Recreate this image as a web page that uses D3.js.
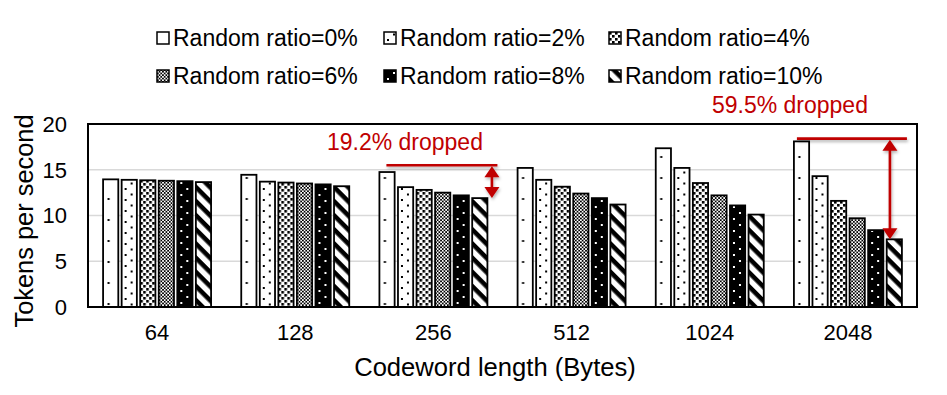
<!DOCTYPE html>
<html>
<head>
<meta charset="utf-8">
<script src="https://cdn.jsdelivr.net/npm/d3@7"></script>
<style>
  body { margin: 0; background: #fff; }
  svg { display: block; font-family: "Liberation Sans", Arial, sans-serif; }
</style>
</head>
<body>
<div id="chart"></div>
<script>
// data
const categories = ["64", "128", "256", "512", "1024", "2048"];
const seriesNames = ["Random ratio=0%", "Random ratio=2%", "Random ratio=4%",
                     "Random ratio=6%", "Random ratio=8%", "Random ratio=10%"];
const ratio0  = [13.95, 14.45, 14.75, 15.2, 17.35, 18.1];
const ratio2  = [13.9, 13.7, 13.1, 13.9, 15.2, 14.3];
const ratio4  = [13.85, 13.6, 12.8, 13.15, 13.55, 11.6];
const ratio6  = [13.8, 13.5, 12.5, 12.4, 12.2, 9.7];
const ratio8  = [13.75, 13.4, 12.2, 11.9, 11.1, 8.4];
const ratio10 = [13.65, 13.2, 11.9, 11.2, 10.1, 7.4];
const yTicks = [0, 5, 10, 15, 20];
const dropNotes = [
  { cat: "256",  text: "19.2% dropped", level: 15.5 },
  { cat: "2048", text: "59.5% dropped", level: 18.4 }
];

const seriesValues = [ratio0, ratio2, ratio4, ratio6, ratio8, ratio10];
const patIds = ["p0", "p2", "p4", "p6", "p8", "p10"];
const RED = "#c00000";

const W = 947, H = 395;
const plot = { left: 88, right: 917, top: 124, bottom: 307 };

const svg = d3.select("#chart").append("svg").attr("width", W).attr("height", H);
const defs = svg.append("defs");

// fill patterns (userSpace, each bar lives in its own translated group)
function pattern(id, w, h, bg) {
  const p = defs.append("pattern").attr("id", id).attr("patternUnits", "userSpaceOnUse")
    .attr("width", w).attr("height", h);
  p.append("rect").attr("width", w).attr("height", h).attr("fill", bg);
  return p;
}
function dot(p, x, y, s, c) {
  p.append("rect").attr("x", x).attr("y", y).attr("width", s).attr("height", s).attr("fill", c);
}
let p = pattern("p0", 15, 21, "#fff");
dot(p, 4.5, 9, 2, "#000");

p = pattern("p2", 12, 11, "#fff");
dot(p, 3, 1, 2, "#000");
dot(p, 9, 6.5, 2, "#000");

p = pattern("p4", 6, 6, "#fff");
dot(p, 0, 0, 2.6, "#000");
dot(p, 3, 3, 2.6, "#000");

p = pattern("p6", 3.4, 3.4, "#fff");
dot(p, 0, 0, 1.7, "#000");
dot(p, 1.7, 1.7, 1.7, "#000");

p = pattern("p8", 12, 12, "#000");
dot(p, 3, 2, 2, "#fff");
dot(p, 9, 8, 2, "#fff");

p = pattern("p10", 10, 10, "#fff").attr("patternTransform", "rotate(45)");
p.append("rect").attr("y", 0).attr("width", 10).attr("height", 4.6).attr("fill", "#000");

const shadow = defs.append("filter").attr("id", "shadow").attr("x", "-20%").attr("y", "-50%")
  .attr("width", "140%").attr("height", "300%");
shadow.append("feDropShadow").attr("dx", 1).attr("dy", 2).attr("stdDeviation", 1.5)
  .attr("flood-color", "#000").attr("flood-opacity", 0.3);

// scales
const x0 = d3.scaleBand().domain(categories).range([plot.left, plot.right]);
const inner = 108;
const x1 = d3.scaleBand().domain(d3.range(seriesNames.length))
  .range([(x0.bandwidth() - inner) / 2, (x0.bandwidth() + inner) / 2]).paddingInner(0.18);
const y = d3.scaleLinear().domain([0, 20]).range([plot.bottom, plot.top]);

// gridlines
svg.append("g").selectAll("line").data(yTicks.filter(t => t > 0 && t < 20)).join("line")
  .attr("x1", plot.left).attr("x2", plot.right)
  .attr("y1", d => y(d)).attr("y2", d => y(d))
  .attr("stroke", "#d9d9d9").attr("stroke-width", 1.6);

// bars
const groups = svg.append("g").selectAll("g").data(categories).join("g")
  .attr("transform", d => `translate(${x0(d)},0)`);
groups.each(function(cat, ci) {
  const g = d3.select(this);
  seriesValues.forEach((vals, si) => {
    g.append("g").attr("transform", `translate(${x1(si)},0)`)
      .append("rect")
      .attr("x", 0).attr("y", y(vals[ci]))
      .attr("width", x1.bandwidth()).attr("height", y(0) - y(vals[ci]))
      .attr("fill", `url(#${patIds[si]})`)
      .attr("stroke", "#000").attr("stroke-width", 1.8);
  });
});

// frame
svg.append("rect").attr("x", plot.left).attr("y", plot.top)
  .attr("width", plot.right - plot.left).attr("height", plot.bottom - plot.top)
  .attr("fill", "none").attr("stroke", "#000").attr("stroke-width", 2);

// y axis labels
svg.append("g").selectAll("text").data(yTicks).join("text")
  .attr("x", 67).attr("y", d => y(d)).attr("dy", "0.36em")
  .attr("text-anchor", "end").attr("font-size", 22).attr("fill", "#000")
  .text(d => d);

// x axis labels
svg.append("g").selectAll("text").data(categories).join("text")
  .attr("x", d => x0(d) + x0.bandwidth() / 2).attr("y", 340)
  .attr("text-anchor", "middle").attr("font-size", 22).attr("fill", "#000")
  .text(d => d);

// axis titles
svg.append("text").attr("x", 495).attr("y", 376).attr("text-anchor", "middle")
  .attr("font-size", 25.6).text("Codeword length (Bytes)");
svg.append("text").attr("transform", "translate(33,221) rotate(-90)")
  .attr("text-anchor", "middle").attr("font-size", 25.4).text("Tokens per second");

// legend
const legX = [157, 384, 609], legY = [38, 76];
const leg = svg.append("g").selectAll("g").data(seriesNames).join("g")
  .attr("transform", (d, i) => `translate(${legX[i % 3]},${legY[Math.floor(i / 3)]})`);
leg.append("rect").attr("x", 0).attr("y", -6).attr("width", 12).attr("height", 12)
  .attr("fill", (d, i) => `url(#${patIds[i]})`).attr("stroke", "#000").attr("stroke-width", 1.5);
leg.append("text").attr("x", 16).attr("y", 0).attr("dy", "0.36em")
  .attr("font-size", 23).text(d => d);

// drop annotations
const noteLayout = {
  "256":  { lineStart: 7,  lineEndPad: 10, arrowPad: 4.5, textDx: -37, textDy: -15 },
  "2048": { lineStart: 3,  lineEndPad: 5,  arrowPad: -12, textDx: -62, textDy: -26 }
};
dropNotes.forEach(n => {
  const L = noteLayout[n.cat];
  const ci = categories.indexOf(n.cat);
  const last = seriesNames.length - 1;
  const gx = x0(n.cat);
  const xa = gx + x1(0) + L.lineStart;
  const xb = gx + x1(last) + x1.bandwidth() + L.lineEndPad;
  const yl = y(n.level);
  const yBar = y(seriesValues[last][ci]);
  const xArrow = gx + x1(last) + x1.bandwidth() + L.arrowPad;
  const g = svg.append("g").attr("filter", "url(#shadow)");
  g.append("line").attr("x1", xa).attr("x2", xb).attr("y1", yl).attr("y2", yl)
    .attr("stroke", RED).attr("stroke-width", 2.6);
  const head = 11, hw = 7.5;
  g.append("line").attr("x1", xArrow).attr("x2", xArrow)
    .attr("y1", yl + head - 1).attr("y2", yBar - head + 1)
    .attr("stroke", RED).attr("stroke-width", 2.6);
  g.append("path").attr("fill", RED)
    .attr("d", `M${xArrow},${yl + 1}L${xArrow + hw},${yl + 1 + head}L${xArrow - hw},${yl + 1 + head}Z`);
  g.append("path").attr("fill", RED)
    .attr("d", `M${xArrow},${yBar}L${xArrow + hw},${yBar - head}L${xArrow - hw},${yBar - head}Z`);
  svg.append("text").attr("x", (xa + xb) / 2 + L.textDx).attr("y", yl + L.textDy)
    .attr("text-anchor", "middle").attr("font-size", 23).attr("fill", RED).text(n.text);
});
</script>
</body>
</html>
